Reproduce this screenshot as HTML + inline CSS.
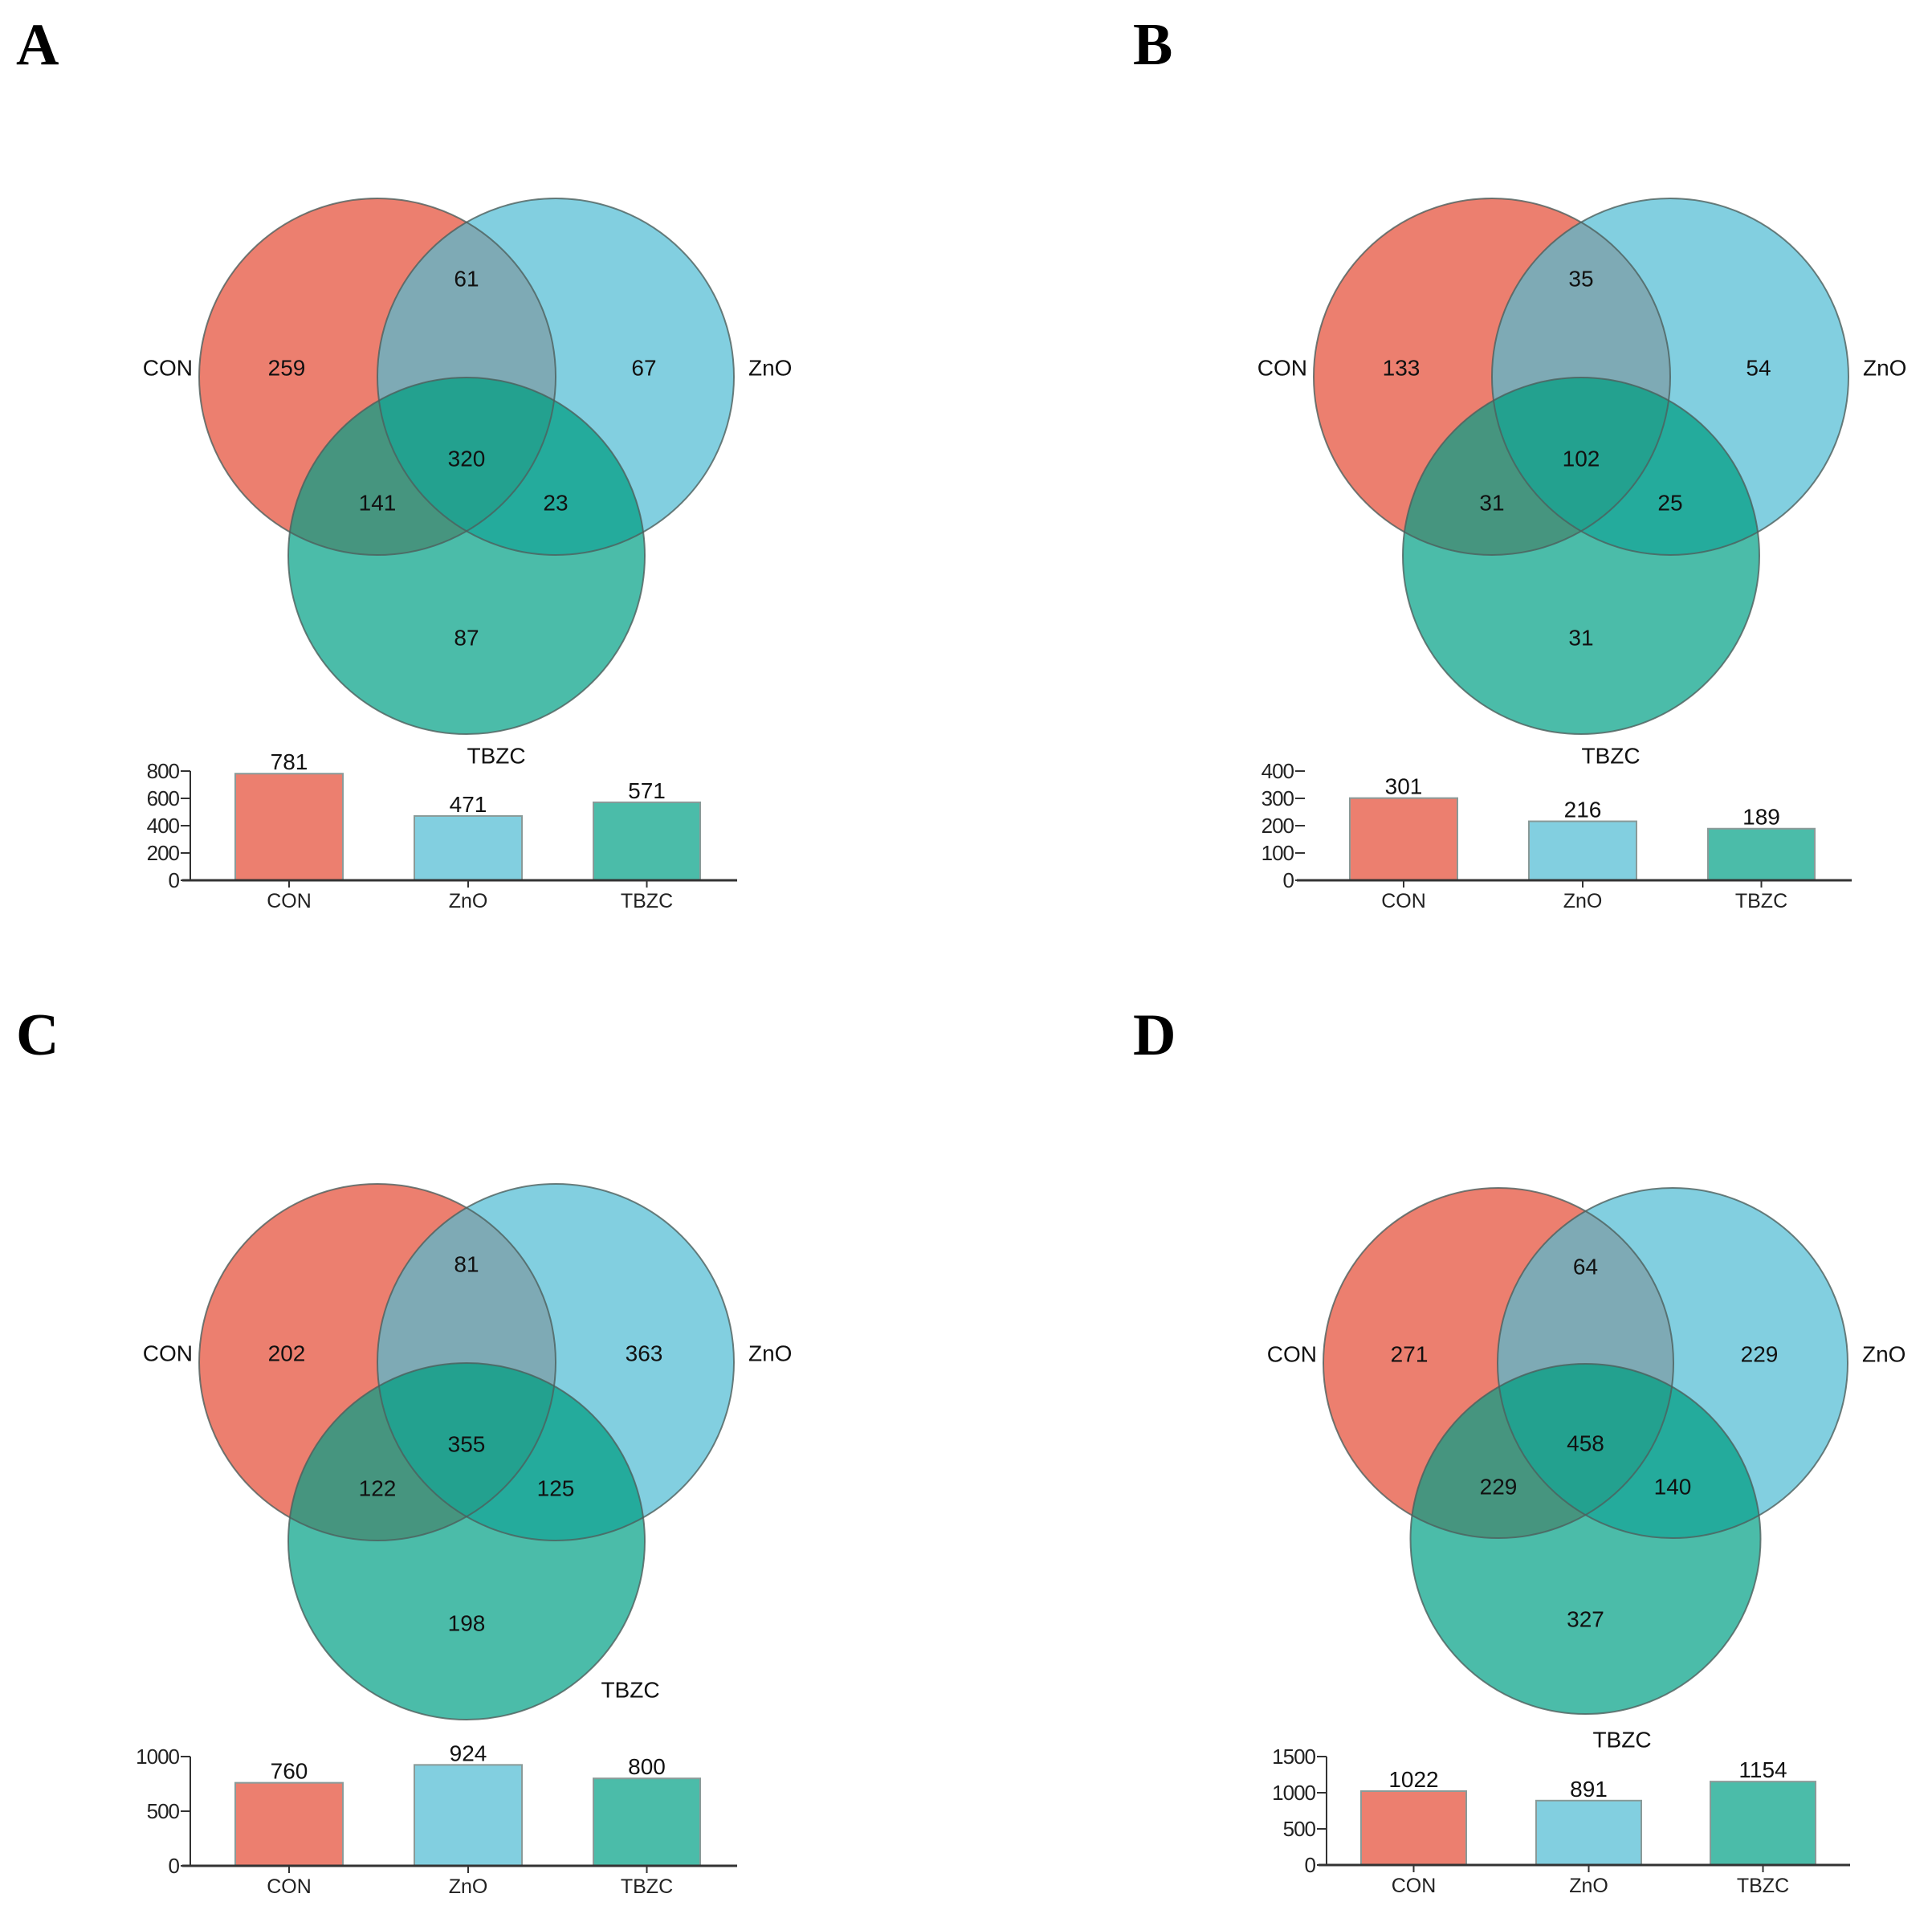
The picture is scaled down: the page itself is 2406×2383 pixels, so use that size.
<!DOCTYPE html>
<html><head><meta charset="utf-8">
<style>
html,body{margin:0;padding:0;background:#fff;}
svg{display:block;font-family:"Liberation Sans",Arial,sans-serif;}
.lbl{font-family:"Liberation Serif",serif;font-weight:bold;font-size:74px;}
</style></head>
<body>
<svg id="fig" width="2406" height="2383" viewBox="0 0 2406 2383" xmlns="http://www.w3.org/2000/svg">
<defs></defs>
</svg>
<script>
// ---- data ----
const groups = ["CON", "ZnO", "TBZC"];
// region order: onlyCON, onlyZnO, onlyTBZC, CON&ZnO, CON&TBZC, ZnO&TBZC, all
const vennA = [259, 67, 87, 61, 141, 23, 320];
const vennB = [133, 54, 31, 35, 31, 25, 102];
const vennC = [202, 363, 198, 81, 122, 125, 355];
const vennD = [271, 229, 327, 64, 229, 140, 458];
const barsA = [781, 471, 571];
const barsB = [301, 216, 189];
const barsC = [760, 924, 800];
const barsD = [1022, 891, 1154];
const ticksA = [0, 200, 400, 600, 800];
const ticksB = [0, 100, 200, 300, 400];
const ticksC = [0, 500, 1000];
const ticksD = [0, 500, 1000, 1500];
const panelLetters = ["A", "B", "C", "D"];

const NS = "http://www.w3.org/2000/svg";
const svg = document.getElementById("fig");
const defs = svg.querySelector("defs");
const colors = ["#ec7f6f", "#82cfe0", "#4bbca9"];
const pairCol = {"01": "#7eaab5", "02": "#46957f", "12": "#24ab9c"};
const allCol = "#23a18f";

function mk(tag, attrs, parent) {
  const e = document.createElementNS(NS, tag);
  for (const k in attrs) e.setAttribute(k, attrs[k]);
  (parent || svg).appendChild(e);
  return e;
}

// tbzc label coords are absolute
const panels = [
  {L: "A", venn: vennA, bars: barsA, ticks: ticksA, ox: 0, oy: 0, cx: 470, cy: 469, r: 222, d: 222, h3: 223, tbzc: [618, 941], bx: 237, bend: 918, base: 1096, top: 960, bar: [[293,427],[516,650],[739,872]], yaxis: true, lx: 20, ly: 80},
  {L: "B", venn: vennB, bars: barsB, ticks: ticksB, ox: 1388, oy: 0, cx: 470, cy: 469, r: 222, d: 222, h3: 223, tbzc: [2006, 941], bx: 237, bend: 918, base: 1096, top: 960, bar: [[293,427],[516,650],[739,872]], yaxis: false, lx: 1411, ly: 80},
  {L: "C", venn: vennC, bars: barsC, ticks: ticksC, ox: 0, oy: 1227, cx: 470, cy: 469, r: 222, d: 222, h3: 223, tbzc: [785, 2104], bx: 237, bend: 918, base: 1096, top: 960, bar: [[293,427],[516,650],[739,872]], yaxis: true, lx: 20, ly: 1313},
  {L: "D", venn: vennD, bars: barsD, ticks: ticksD, ox: 0, oy: 0, cx: 1866, cy: 1697, r: 218, d: 217, h3: 219, tbzc: [2020, 2166], bx: 1652, bend: 2304, base: 2322, top: 2187, bar: [[1695,1826],[1913,2044],[2130,2261]], yaxis: true, lx: 1411, ly: 1313}
];

panels.forEach((p, pi) => {
  const g = mk("g", {transform: `translate(${p.ox},${p.oy})`});
  
  

  const letter = mk("text", {x: p.lx - p.ox, y: p.ly - p.oy, class: "lbl", fill: "#000"}, g);
  letter.textContent = panelLetters[pi];
  
  

  const s = p.r / 222;
  const C = [[p.cx, p.cy], [p.cx + p.d, p.cy], [p.cx + p.d / 2, p.cy + p.h3]];
  C.forEach((c, i) => {
    const cp = mk("clipPath", {id: `cp${pi}_${i}`}, defs);
    mk("circle", {cx: c[0], cy: c[1], r: p.r}, cp);
  });
  const vg = mk("g", {}, g);
  
  
  C.forEach((c, i) => {
    const e = mk("circle", {cx: c[0], cy: c[1], r: p.r, fill: colors[i]}, vg);
    
    
  });
  [[0,1],[0,2],[1,2]].forEach(([a,b]) => {
    const gg = mk("g", {"clip-path": `url(#cp${pi}_${a})`}, vg);
    const e = mk("circle", {cx: C[b][0], cy: C[b][1], r: p.r, fill: pairCol["" + a + b]}, gg);
    
    
  });
  const g3 = mk("g", {"clip-path": `url(#cp${pi}_0)`}, vg);
  const g3b = mk("g", {"clip-path": `url(#cp${pi}_1)`}, g3);
  const e3 = mk("circle", {cx: C[2][0], cy: C[2][1], r: p.r, fill: allCol}, g3b);
  
  
  C.forEach((c) => {
    mk("circle", {cx: c[0], cy: c[1], r: p.r, fill: "none", stroke: "#4d5f5c", "stroke-width": 2, "stroke-opacity": 0.8}, vg);
  });
  const mx = p.cx + p.d / 2;
  const pos = [
    [p.cx - 113 * s, p.cy - 11 * s], [p.cx + p.d + 110 * s, p.cy - 11 * s], [mx, p.cy + 325 * s],
    [mx, p.cy - 122 * s], [p.cx, p.cy + 157 * s], [p.cx + p.d, p.cy + 157 * s], [mx, p.cy + 102 * s]
  ];
  p.venn.forEach((v, i) => {
    const t = mk("text", {x: pos[i][0], y: pos[i][1], "text-anchor": "middle", "dominant-baseline": "central", "font-size": 28, fill: "#111"}, vg);
    t.textContent = v;
    
    
  });
  const l1 = mk("text", {x: p.cx - p.r - 8, y: p.cy - 11 * s, "text-anchor": "end", "dominant-baseline": "central", "font-size": 28, fill: "#111"}, vg);
  l1.textContent = groups[0];
  
  
  const l2 = mk("text", {x: p.cx + p.d + p.r + 18, y: p.cy - 11 * s, "text-anchor": "start", "dominant-baseline": "central", "font-size": 28, fill: "#111"}, vg);
  l2.textContent = groups[1];
  
  
  const l3 = mk("text", {x: p.tbzc[0] - p.ox, y: p.tbzc[1] - p.oy, "text-anchor": "middle", "dominant-baseline": "central", "font-size": 28, fill: "#111"}, vg);
  l3.textContent = groups[2];
  
  

  // bar chart
  const bg = mk("g", {}, g);
  
  
  const maxT = p.ticks[p.ticks.length - 1];
  const y = v => p.base - (v / maxT) * (p.base - p.top);
  p.bars.forEach((v, i) => {
    const [x0, x1] = p.bar[i];
    const r = mk("rect", {x: x0, y: y(v), width: x1 - x0, height: p.base - y(v), fill: colors[i], stroke: "#8a9a98", "stroke-width": 2}, bg);
    
    
    const t = mk("text", {x: (x0 + x1) / 2, y: y(v) - 5, "text-anchor": "middle", "font-size": 28, fill: "#111"}, bg);
    t.textContent = v;
    
    
    mk("line", {x1: (x0 + x1) / 2, x2: (x0 + x1) / 2, y1: p.base, y2: p.base + 9, stroke: "#333", "stroke-width": 2}, bg);
    const c = mk("text", {x: (x0 + x1) / 2, y: p.base + 34, "text-anchor": "middle", "font-size": 25, fill: "#222"}, bg);
    c.textContent = groups[i];
    
    
  });
  const xa = mk("line", {x1: p.bx - 10, x2: p.bend, y1: p.base, y2: p.base, stroke: "#333", "stroke-width": 3}, bg);
  
  
  if (p.yaxis) {
    const ya = mk("line", {x1: p.bx, x2: p.bx, y1: p.top, y2: p.base, stroke: "#333", "stroke-width": 2}, bg);
    
    
  }
  p.ticks.forEach(tv => {
    const ty = y(tv);
    mk("line", {x1: p.bx - 12, x2: p.bx, y1: ty, y2: ty, stroke: "#333", "stroke-width": 2}, bg);
    const t = mk("text", {x: p.bx - 14, y: ty, "text-anchor": "end", "dominant-baseline": "central", "font-size": 26, fill: "#222", "letter-spacing": "-1"}, bg);
    t.textContent = tv;
    
    
  });
});
</script>
</body></html>
